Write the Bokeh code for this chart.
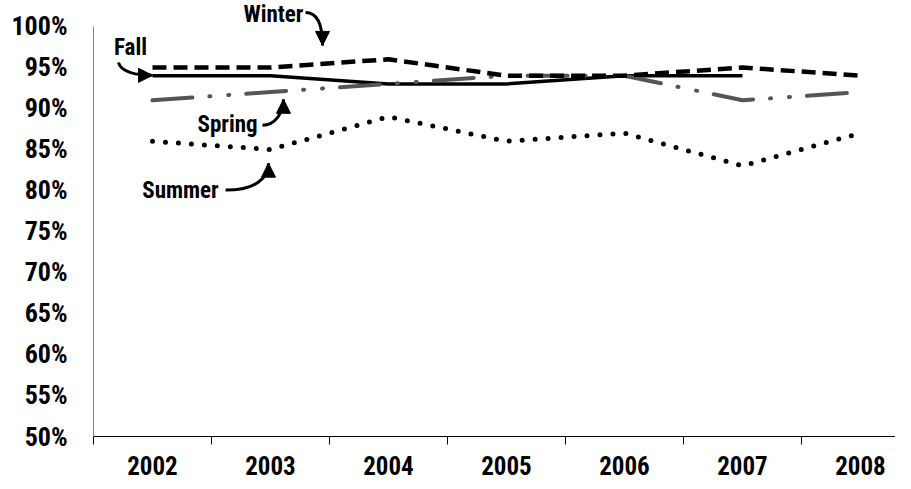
from bokeh.plotting import figure
from bokeh.models import Range1d, FixedTicker, Label, Arrow, NormalHead, CustomJSTickFormatter
from bokeh.embed import file_html
from bokeh.resources import INLINE

# ---- data ----
years = ["2002", "2003", "2004", "2005", "2006", "2007", "2008"]
winter = [95, 95, 96, 94, 94, 95, 94]
fall = [94, 94, 93, 93, 94, 94, float("nan")]
spring = [91, 92, 93, 94, 94, 91, 92]
summer = [86, 85, 89, 86, 87, 83, 87]
y_ticks = [50, 55, 60, 65, 70, 75, 80, 85, 90, 95, 100]

FONT = "'Roboto Condensed', 'Liberation Sans Narrow', Roboto, sans-serif"

xc = [i + 0.5 for i in range(len(years))]

p = figure(frame_width=802, frame_height=436,
           x_range=Range1d(0, 6.797), y_range=Range1d(50, 103.17),
           output_backend="svg", toolbar_location=None,
           min_border_left=93, min_border_right=0, min_border_top=0, min_border_bottom=45)
p.grid.visible = False
p.outline_line_color = None
p.background_fill_color = "white"

# x axis
p.xaxis.ticker = FixedTicker(ticks=xc, minor_ticks=list(range(len(years) + 1)))
p.xaxis.major_label_overrides = {x: y for x, y in zip(xc, years)}
p.xaxis.major_tick_out = 0
p.xaxis.major_tick_in = 0
p.xaxis.minor_tick_out = 8
p.xaxis.minor_tick_in = 0
p.xaxis.minor_tick_line_color = "black"
p.xaxis.axis_line_color = "black"
p.xaxis.major_label_standoff = 11
p.xaxis.major_label_text_font = FONT
p.xaxis.major_label_text_font_style = "bold"
p.xaxis.major_label_text_font_size = "25px"
p.xaxis.major_label_text_color = "black"

# y axis
p.yaxis.ticker = FixedTicker(ticks=y_ticks, minor_ticks=[])
p.yaxis.formatter = CustomJSTickFormatter(code="return tick.toFixed(0) + '%';")
p.yaxis.bounds = (50, 100)
p.yaxis.major_tick_out = 0
p.yaxis.major_tick_in = 0
p.yaxis.minor_tick_out = 0
p.yaxis.minor_tick_in = 0
p.yaxis.axis_line_color = "#808080"
p.yaxis.major_label_standoff = 26
p.yaxis.major_label_text_font = FONT
p.yaxis.major_label_text_font_style = "bold"
p.yaxis.major_label_text_font_size = "26px"
p.yaxis.major_label_text_color = "black"

# series
p.line(xc, fall, line_color="black", line_width=3.5)
p.line(xc, spring, line_color="#555555", line_width=4, line_dash="40 17 1 18 1 17", line_cap="round")
p.line(xc, winter, line_color="black", line_width=4.5, line_dash="14 7")
p.line(xc, summer, line_color="black", line_width=5, line_dash="0 13", line_cap="round")

# ---- annotations (label, label position, arrow curve start, controls, tip) ----
ann_text = ["Winter", "Fall", "Spring", "Summer"]
ann_x = [1.525, 0.314, 1.136, 0.737]
ann_y = [101.46, 97.45, 88.08, 80.05]
arr_x0 = [1.797, 0.212, 1.432, 1.119]
arr_y0 = [101.70, 95.6, 87.96, 80.05]
arr_cx0 = [1.907, 0.229, 1.542, 1.373]
arr_cy0 = [101.70, 94.4, 87.96, 80.05]
arr_cx1 = [1.941, 0.373, 1.610, 1.483]
arr_cy1 = [100.12, 94.04, 89.54, 81.5]
arr_x1 = [1.941, 0.5, 1.610, 1.483]
arr_y1 = [97.69, 94.04, 91.12, 83.33]

p.bezier(x0=arr_x0, y0=arr_y0, x1=arr_x1, y1=arr_y1,
         cx0=arr_cx0, cy0=arr_cy0, cx1=arr_cx1, cy1=arr_cy1,
         line_color="black", line_width=3)

for i, t in enumerate(ann_text):
    p.add_layout(Label(x=ann_x[i], y=ann_y[i], text=t, text_align="center",
                       text_baseline="middle", text_font=FONT, text_font_style="bold",
                       text_font_size="23px", text_color="black"))
    p.add_layout(Arrow(end=NormalHead(size=14, fill_color="black", line_color="black"),
                       x_start=arr_cx1[i], y_start=arr_cy1[i],
                       x_end=arr_x1[i], y_end=arr_y1[i], line_alpha=0))

open("out.html", "w").write(file_html(p, INLINE))
